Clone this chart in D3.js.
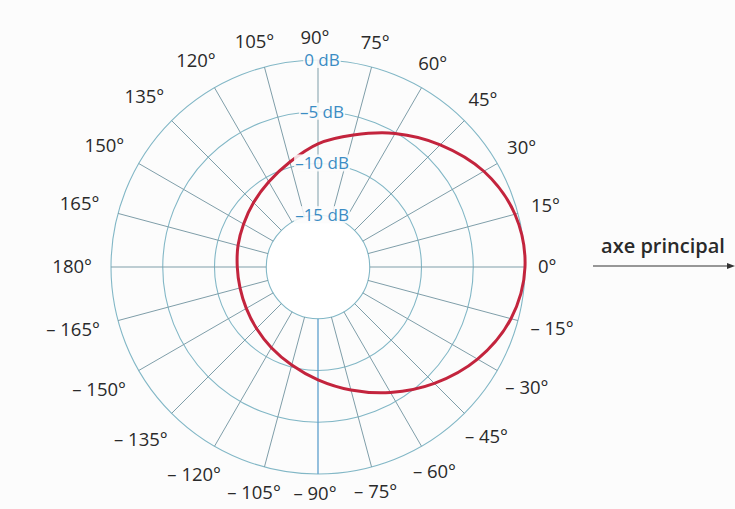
<!DOCTYPE html>
<html>
<head>
<meta charset="utf-8">
<script src="https://cdn.jsdelivr.net/npm/d3@7"></script>
<style>
  body { margin: 0; background: #fcfcfc; }
  svg { display: block; }
  text { font-family: "Open Sans", "Noto Sans", sans-serif; }
</style>
</head>
<body>
<svg width="735" height="509"></svg>
<script>
// angular grid (degrees, 0 = axe principal, counter-clockwise)
const angleTicks = [0, 15, 30, 45, 60, 75, 90, 105, 120, 135, 150, 165, 180,
  -165, -150, -135, -120, -105, -90, -75, -60, -45, -30, -15];
const angleLabels = ['0°', '15°', '30°', '45°', '60°', '75°', '90°', '105°', '120°', '135°', '150°', '165°', '180°',
  '– 165°', '– 150°', '– 135°', '– 120°', '– 105°', '– 90°', '– 75°', '– 60°', '– 45°', '– 30°', '– 15°'];

// radial grid (dB)
const dbTicks = [0, -5, -10, -15];
const dbLabels = ['0 dB', '–5 dB', '–10 dB', '–15 dB'];

// directivity curve
const curveAngles = [0, 15, 30, 45, 60, 75, 90, 105, 120, 135, 150, 165, 180,
  -165, -150, -135, -120, -105, -90, -75, -60, -45, -30, -15];
const curveDb = [0.0, -0.3, -1.5, -3.3, -5.1, -6.8, -8.1, -9.5, -10.5, -11.2, -11.7, -12.0, -12.2,
  -12.2, -12.0, -11.6, -11.0, -10.2, -9.1, -7.7, -6.0, -4.1, -2.2, -0.7];

const axisTitle = 'axe principal';

const svg = d3.select('svg');
const width = +svg.attr('width');
const height = +svg.attr('height');

const cx = 318, cy = 267;
const outerR = 207;
const innerDb = -15;

const r = d3.scaleLinear().domain([-20, 0]).range([0, outerR]);
const rad = d => d * Math.PI / 180;

const g = svg.append('g').attr('transform', `translate(${cx},${cy})`);

// rings
g.selectAll('circle.ring').data(dbTicks)
  .enter().append('circle')
    .attr('class', 'ring')
    .attr('r', d => r(d))
    .attr('fill', d => d === innerDb ? '#ffffff' : 'none')
    .attr('stroke', '#82b7c6')
    .attr('stroke-width', 1.1);

// spokes
g.selectAll('line.spoke').data(angleTicks)
  .enter().append('line')
    .attr('class', 'spoke')
    .attr('x1', d => r(innerDb) * Math.cos(rad(d)))
    .attr('y1', d => -r(innerDb) * Math.sin(rad(d)))
    .attr('x2', d => r(0) * Math.cos(rad(d)))
    .attr('y2', d => -r(0) * Math.sin(rad(d)))
    .attr('stroke', d => d === -90 ? '#5d9fcc' : '#7f9ea9')
    .attr('stroke-width', d => d === -90 ? 1.3 : 1);

// curve
const line = d3.lineRadial()
  .angle(d => rad(90 - d[0]))
  .radius(d => r(d[1]))
  .curve(d3.curveCatmullRomClosed.alpha(0.5));

g.append('path')
  .datum(curveAngles.map((a, i) => [a, curveDb[i]]))
  .attr('d', line)
  .attr('fill', 'none')
  .attr('stroke', '#c3243d')
  .attr('stroke-width', 3);

// dB labels on the vertical axis
const dbG = g.selectAll('g.db').data(dbTicks)
  .enter().append('g')
    .attr('class', 'db')
    .attr('transform', d => `translate(4,${-r(d)})`);

const dbText = dbG.append('text')
    .attr('text-anchor', 'middle')
    .attr('dy', '0.35em')
    .attr('font-size', 17)
    .attr('fill', '#3b8cc4')
    .text((d, i) => dbLabels[i]);

dbText.each(function () {
  const b = this.getBBox();
  d3.select(this.parentNode).insert('rect', 'text')
    .attr('x', b.x - 1)
    .attr('y', b.y + 3)
    .attr('width', b.width + 2)
    .attr('height', b.height - 6)
    .attr('fill', '#fcfcfc')
    .attr('opacity', 0.85);
});

// angle labels
const labelR = 223;
const labelShift = -3;
g.selectAll('text.angle').data(angleTicks)
  .enter().append('text')
    .attr('class', 'angle')
    .attr('text-anchor', 'middle')
    .attr('dy', '0.35em')
    .attr('font-size', 18.5)
    .attr('fill', '#2a2a2a')
    .text((d, i) => angleLabels[i])
    .each(function (d) {
      const w = this.getComputedTextLength();
      const h = 12;
      const c = Math.cos(rad(d)), s = Math.sin(rad(d));
      const ext = Math.abs(c) * w / 2 + Math.abs(s) * h / 2;
      d3.select(this)
        .attr('x', (labelR + ext) * c + labelShift)
        .attr('y', -(labelR + ext) * s - (s < 0 ? 2 : 0));
    });

// main axis arrow
const ax = svg.append('g');
ax.append('text')
  .attr('x', 663)
  .attr('y', 253)
  .attr('text-anchor', 'middle')
  .attr('font-size', 20)
  .attr('font-weight', 600)
  .attr('fill', '#2a2a2a')
  .text(axisTitle);

ax.append('line')
  .attr('x1', 593).attr('y1', 266)
  .attr('x2', 729).attr('y2', 266)
  .attr('stroke', '#333')
  .attr('stroke-width', 1.2);

ax.append('path')
  .attr('d', 'M735,266 L727,263 L727,269 Z')
  .attr('fill', '#333');
</script>
</body>
</html>
